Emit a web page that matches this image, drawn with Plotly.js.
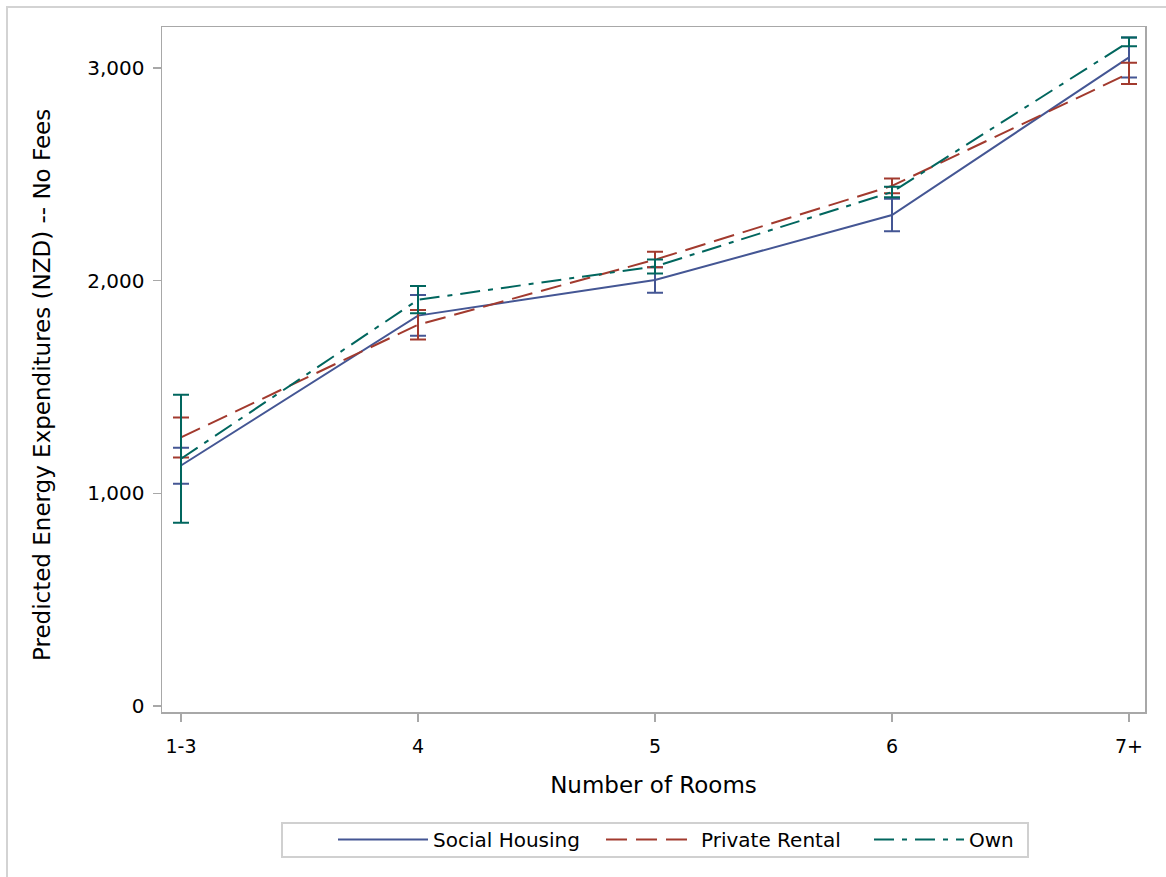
<!DOCTYPE html>
<html>
<head>
<meta charset="utf-8">
<script src="https://cdn.plot.ly/plotly-3.0.1.min.js"></script>
<style>html,body{margin:0;padding:0;background:#fff;}#chart{width:1166px;height:877px;}</style>
</head>
<body>
<div id="chart"></div>
<script>
const categories = ["1-3", "4", "5", "6", "7+"];

const socialMean  = [1131, 1836, 2003, 2309, 3050];
const socialUpper = [1215, 1933, 2063, 2385, 3144];
const socialLower = [1045, 1741, 1943, 2233, 2956];

const privateMean  = [1263, 1793, 2099, 2446, 2975];
const privateUpper = [1357, 1862, 2136, 2481, 3025];
const privateLower = [1169, 1724, 2063, 2411, 2925];

const ownMean  = [1163, 1910, 2067, 2417, 3124];
const ownUpper = [1464, 1975, 2100, 2442, 3144];
const ownLower = [862, 1847, 2034, 2392, 3103];

const seriesNames = ["Social Housing", "Private Rental", "Own"];
const yTickVals = [0, 1000, 2000, 3000];
const yTickText = ["0", "1,000", "2,000", "3,000"];
const colors = ["#445694", "#A23A2E", "#01665E"];
const dashes = ["solid", "21px,9px", "20px,8px,5px,8px"];

function mk(name, mean, up, lo, color, dash) {
  return {
    type: "scatter", mode: "lines", name: name,
    x: categories, y: mean,
    line: {color: color, width: 2, dash: dash},
    error_y: {
      type: "data", symmetric: false,
      array: up.map((v, i) => v - mean[i]),
      arrayminus: mean.map((v, i) => v - lo[i]),
      color: color, thickness: 2, width: 8
    }
  };
}

const data = [
  mk(seriesNames[0], socialMean, socialUpper, socialLower, colors[0], dashes[0]),
  mk(seriesNames[1], privateMean, privateUpper, privateLower, colors[1], dashes[1]),
  mk(seriesNames[2], ownMean, ownUpper, ownLower, colors[2], dashes[2])
];

const font = "DejaVu Sans, Verdana, sans-serif";
const layout = {
  width: 1166, height: 877,
  margin: {l: 162, r: 21, t: 27, b: 165, autoexpand: false},
  paper_bgcolor: "#fff", plot_bgcolor: "#fff",
  font: {family: font, size: 20, color: "#000"},
  showlegend: true,
  xaxis: {
    type: "category", range: [-0.0802, 4.0675],
    showgrid: false, zeroline: false,
    showline: true, mirror: true, linecolor: "#a8a8a8", linewidth: 1.5,
    ticks: "outside", ticklen: 8, tickcolor: "#a8a8a8", tickwidth: 1.5,
    ticklabelstandoff: 9,
    tickfont: {family: font, size: 19, color: "#000"},
    title: {text: "Number of Rooms", font: {family: font, size: 23, color: "#000"}, standoff: 20}
  },
  yaxis: {
    range: [-28, 3193],
    tickvals: yTickVals,
    ticktext: yTickText,
    showgrid: false, zeroline: false,
    showline: true, mirror: true, linecolor: "#a8a8a8", linewidth: 1.5,
    ticks: "outside", ticklen: 8, tickcolor: "#a8a8a8", tickwidth: 1.5,
    ticklabelstandoff: 4,
    tickfont: {family: font, size: 20, color: "#000"}
  },
  annotations: [
    {text: "Predicted Energy Expenditures (NZD) -- No Fees",
     xref: "paper", yref: "paper",
     x: (42 - 162) / 983, y: (712 - 385) / 685,
     xanchor: "center", yanchor: "middle", textangle: -90, showarrow: false,
     font: {family: font, size: 23, color: "#000"}}
  ],
  legend: {
    orientation: "h", xref: "paper", yref: "paper",
    x: (333 - 162) / 983, xanchor: "left",
    y: (712 - 820) / 685, yanchor: "top",
    bgcolor: "rgba(0,0,0,0)", borderwidth: 0,
    itemwidth: 90,
    entrywidth: 163, entrywidthmode: "pixels",
    font: {family: font, size: 20, color: "#000"},
    traceorder: "normal"
  },
  shapes: [
    {type: "rect", xref: "paper", yref: "paper",
     x0: (282 - 162) / 983, x1: (1028 - 162) / 983,
     y0: (712 - 857) / 685, y1: (712 - 823) / 685,
     line: {color: "#d0d0d0", width: 2}, fillcolor: "rgba(0,0,0,0)", layer: "below"},
    {type: "rect", xref: "paper", yref: "paper",
     x0: (7 - 162) / 983, x1: (1175 - 162) / 983,
     y0: (712 - 900) / 685, y1: (712 - 7) / 685,
     line: {color: "#d3d3d3", width: 2}, fillcolor: "rgba(0,0,0,0)", layer: "below"}
  ]
};

Plotly.newPlot("chart", data, layout, {displayModeBar: false, staticPlot: true});
</script>
</body>
</html>
